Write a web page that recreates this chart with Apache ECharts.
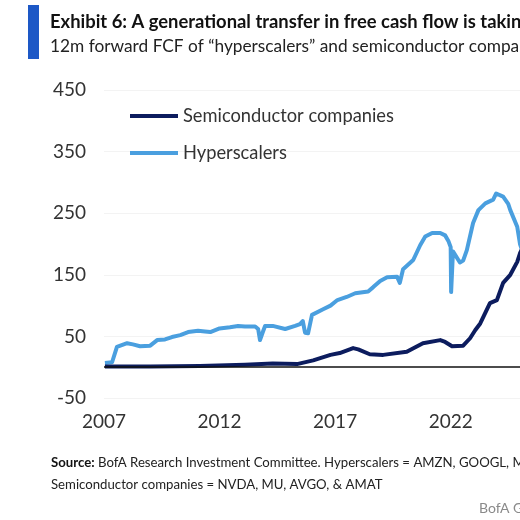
<!DOCTYPE html>
<html>
<head>
<meta charset="utf-8">
<script src="https://cdn.jsdelivr.net/npm/echarts@6/dist/echarts.min.js"></script>
<style>
html,body{margin:0;padding:0;background:#fff;}
#c{width:520px;height:520px;}
</style>
</head>
<body>
<div id="c"></div>
<script>
// ---- data (decimal year, $bn) ----
const hyperYears  = [2007.04,2007.35,2007.56,2008.0,2008.25,2008.56,2009.0,2009.3,2009.64,2009.94,2010.3,2010.64,2011.07,2011.37,2011.6,2012.0,2012.45,2012.8,2013.1,2013.54,2013.67,2013.75,2013.88,2013.97,2014.3,2014.84,2015.27,2015.48,2015.6,2015.7,2015.83,2016.0,2016.48,2016.8,2017.1,2017.5,2017.87,2018.43,2018.65,2018.95,2019.25,2019.68,2019.8,2019.94,2020.38,2020.68,2020.9,2021.2,2021.55,2021.76,2021.9,2022.0,2022.02,2022.1,2022.4,2022.54,2022.7,2022.97,2023.2,2023.5,2023.84,2023.97,2024.27,2024.49,2024.58,2024.88,2025.0,2025.2];
const hyperValues = [7,8,33,39,37,34,35,44,45,49,52,57,59,58,57,63,65,67,66,66,62,44,58,67,67,62,67,70,75,56,55,85,94,100,109,114,120,123,130,140,146,147,137,159,174,198,212,218,218,214,205,195,122,188,170,173,190,234,255,266,272,282,277,265,255,228,200,178];
const semiYears   = [2007.04,2009.0,2011.15,2013.1,2014.3,2015.35,2016.05,2016.8,2017.2,2017.78,2018.0,2018.5,2019.08,2020.1,2020.8,2021.55,2021.76,2022.06,2022.54,2022.84,2023.06,2023.28,2023.7,2024.0,2024.27,2024.58,2024.88,2025.0,2025.2];
const semiValues  = [1,1,2,4,6,5,11,20,23,31,29,21,20,25,39,44,41,34,35,47,60,71,104,109,137,150,171,185,200];
const xTicks = [2007,2012,2017,2022];
const seriesNames = ['Semiconductor companies','Hyperscalers'];

const pair = (xs, ys) => xs.map((x, i) => [x, ys[i]]);
const FONT = 'Lato, "Noto Sans", sans-serif';

const chart = echarts.init(document.getElementById('c'), null, {renderer: 'canvas'});
chart.setOption({
  backgroundColor: '#ffffff',
  animation: false,
  grid: {left: 104, right: 0, top: 90, bottom: 122, containLabel: false},
  legend: [
    {data: [seriesNames[0]], left: 130, top: 106, orient: 'vertical', icon: 'rect', itemWidth: 48, itemHeight: 4, padding: 0,
     textStyle: {fontFamily: FONT, fontSize: 18.3, color: '#333', lineHeight: 20}},
    {data: [seriesNames[1]], left: 130, top: 143, orient: 'vertical', icon: 'rect', itemWidth: 48, itemHeight: 4, padding: 0,
     textStyle: {fontFamily: FONT, fontSize: 18.3, color: '#333', lineHeight: 20}}
  ],
  xAxis: {
    type: 'value', min: 2007, max: 2025, interval: 5,
    axisLine: {show: false}, axisTick: {show: false}, splitLine: {show: false},
    axisLabel: {
      margin: 14, fontFamily: FONT, fontSize: 19, color: '#333', showMaxLabel: false,
      formatter: v => (xTicks.indexOf(v) >= 0 ? String(v) : '')
    }
  },
  yAxis: {
    type: 'value', min: -50, max: 450, interval: 100,
    axisLine: {show: false}, axisTick: {show: false},
    splitLine: {show: true, lineStyle: {color: '#f3f3f3', width: 1}},
    axisLabel: {margin: 18, fontFamily: FONT, fontSize: 19, color: '#333'}
  },
  series: [
    {
      name: seriesNames[1], type: 'line', data: pair(hyperYears, hyperValues),
      showSymbol: false, symbol: 'none', z: 2,
      lineStyle: {color: '#4a9fdf', width: 4, join: 'round'}, itemStyle: {color: '#4a9fdf'},
      markLine: {silent: true, symbol: 'none', label: {show: false},
        lineStyle: {color: '#111', width: 1.5, type: 'solid'}, data: [{yAxis: 0}]}
    },
    {
      name: seriesNames[0], type: 'line', data: pair(semiYears, semiValues),
      showSymbol: false, symbol: 'none', z: 3,
      lineStyle: {color: '#0c1c5e', width: 4, join: 'round'}, itemStyle: {color: '#0c1c5e'}
    }
  ],
  graphic: [
    {type: 'rect', shape: {x: 28, y: 5, width: 11, height: 54}, style: {fill: '#1d58c6'}},
    {type: 'text', x: 50, y: 22, style: {text: 'Exhibit 6: A generational transfer in free cash flow is taking place',
      font: 'bold 18.4px Lato, "Open Sans", sans-serif', fill: '#111', verticalAlign: 'middle'}},
    {type: 'text', x: 50, y: 46, style: {text: '12m forward FCF of \u201chyperscalers\u201d and semiconductor companies ($bn)',
      font: '17.3px ' + FONT, fill: '#222', verticalAlign: 'middle'}},
    {type: 'text', x: 51, y: 463, style: {rich: {b: {fontWeight: 'bold', fontFamily: FONT, fontSize: 13.2, fill: '#111'},
      n: {fontFamily: FONT, fontSize: 13.2, fill: '#222'}},
      text: '{b|Source:} {n|BofA Research Investment Committee. Hyperscalers = AMZN, GOOGL, MSFT, META}', verticalAlign: 'middle'}},
    {type: 'text', x: 51, y: 485, style: {text: 'Semiconductor companies = NVDA, MU, AVGO, & AMAT',
      font: '13.2px ' + FONT, fill: '#222', verticalAlign: 'middle'}},
    {type: 'text', x: 479, y: 508, style: {text: 'BofA GLOBAL RESEARCH',
      font: '14px ' + FONT, fill: '#8a8a8a', verticalAlign: 'middle'}}
  ]
});
</script>
</body>
</html>
